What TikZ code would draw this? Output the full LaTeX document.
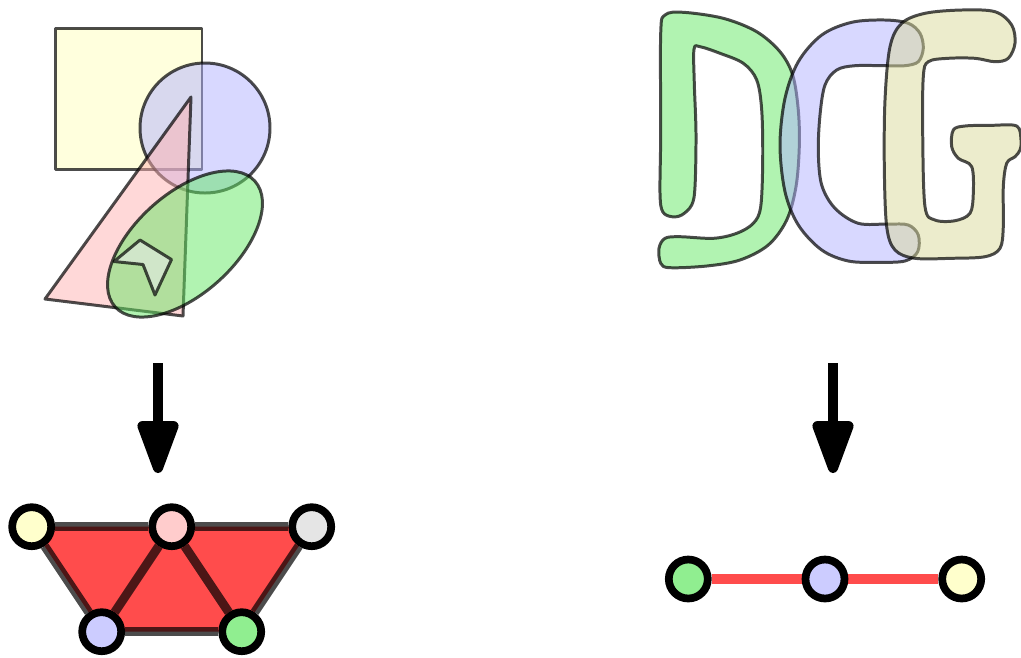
\documentclass[tikz,border=0pt]{standalone}
\usepackage{xcolor}
\usepackage{tikz}
\usetikzlibrary{arrows.meta,backgrounds}
\definecolor{shyellow}{RGB}{255,255,187}
\definecolor{shblue}{RGB}{177,177,255}
\definecolor{shpink}{RGB}{255,177,177}
\definecolor{shgreen}{RGB}{99,231,99}
\definecolor{sholive}{RGB}{217,217,153}
\definecolor{shgray}{RGB}{240,236,245}
\definecolor{facered}{RGB}{255,76,76}
\definecolor{vyellow}{RGB}{255,255,204}
\definecolor{vpink}{RGB}{255,204,204}
\definecolor{vgray}{RGB}{229,229,229}
\definecolor{vblue}{RGB}{204,204,255}
\definecolor{vgreen}{RGB}{144,238,144}

\begin{document}
\begin{tikzpicture}[x=0.02cm, y=-0.02cm,
    blob/.style={draw=black, draw opacity=0.7, line width=1.7pt, fill opacity=0.5, line join=round},
    vertex/.style={circle, draw=black, line width=4.4pt, minimum size=0.78cm, inner sep=0pt},
    faceedge/.style={draw=black, draw opacity=0.7, line width=5.1pt},
    downarrow/.style={line width=5.7pt, -{Triangle[length=1.25cm,width=0.85cm,round]}}]
        \useasboundingbox (0,0) rectangle (1021,657);
        % Shapes
        \draw[blob, fill=shyellow] (55.5,28) rectangle (202,169);
        \draw[blob, fill=shblue] (205,128) circle [radius=65];
        \draw[blob, fill=shpink] (191,97) -- (183,316) -- (45,299) -- cycle;
        \draw[blob, fill=shgreen, rotate around={42:(185,244)}] (185,244) ellipse [x radius=94, y radius=50];
        \draw[blob, fill=shgray] (140,240) -- (171.5,259.5) -- (155,295) -- (143,264.5) -- (114,261.5) -- cycle;
        % Letters
        \draw[blob, fill=shgreen] plot[smooth cycle, tension=0.55] coordinates {
            (660.7,33.3) (665,15) (683.3,12.3) (723.3,18.3) (756.7,31.7) (780,51.7)
            (792.7,75) (798.3,110) (799.3,146.7) (796,186.7) (786.7,220) (768.3,245)
            (740,260) (706.7,266) (670,267.7) (660.7,263.3) (659,248.3) (665,238.3)
            (680,236.7) (713.3,238.3) (736.7,233.3) (753.3,223.3) (760.7,206.7) (762.7,160)
            (761.7,110) (756.7,80) (743.3,63.3) (720,53.3) (700,46.7) (694,49.3)
            (694.3,83.3) (696,133.3) (695,186.7) (691.7,205) (681.7,215) (671.7,216.7)
            (662.7,211.7) (660,193.3) (660.7,133.3)};
        \draw[blob, fill=shblue] plot[smooth cycle, tension=0.55] coordinates {
            (780,145) (785,98.3) (798.3,61.7) (821.7,35) (851.7,22.3) (885,20)
            (908.3,23.3) (920,33.3) (923.3,48.3) (918.3,61.7) (905,65.7) (885,65.7)
            (855,65.7) (836.7,70) (825,85) (820,115) (818.3,151.7) (821.7,185)
            (835,208.3) (858.3,223.3) (888.3,224) (908.3,225) (918.3,235) (917.7,251.7)
            (905,261) (878.3,262.3) (848.3,261) (821.7,250) (798.3,225) (785,191.7)};
        \draw[blob, fill=sholive] plot[smooth cycle, tension=0.55] coordinates {
            (885,100) (890,46.7) (901.7,23.3) (925,13.3) (961.7,10) (995,11.7)
            (1011.7,25) (1015,43.3) (1008.3,58.3) (995,61.7) (975,58.3) (948.3,58.3)
            (928.3,61.7) (923.3,76.7) (922.7,133.3) (925,206.7) (935,220) (955,220.7)
            (970,213.3) (973.3,193.3) (971.7,166.7) (958.3,158.3) (951.7,146.7) (953.3,130)
            (965,126) (991.7,125.3) (1016.7,126) (1021,140) (1020,150) (1015,156.7)
            (1006.7,163.3) (1003.3,186.7) (1003.3,226.7) (1000,248.3) (985,256.7) (951.7,258.3)
            (915,258.3) (895,250) (886.7,226.7) (884.3,166.7)};
        % Arrows
        \coordinate (leftstart) at (158,363);
        \coordinate (leftend) at (158,473);
        \coordinate (rightstart) at (833,363);
        \coordinate (rightend) at (833,473);
        \draw[downarrow] (leftstart) -- (leftend);
        \draw[downarrow] (rightstart) -- (rightend);
        % Left graph
        \node[vertex, fill=vyellow] (ly) at (31.7,526.7) {};
        \node[vertex, fill=vpink] (lp) at (171.7,526.7) {};
        \node[vertex, fill=vgray] (lg) at (311.7,526.7) {};
        \node[vertex, fill=vblue] (lb) at (101.7,631.7) {};
        \node[vertex, fill=vgreen] (lgr) at (241.7,631.7) {};
        \begin{scope}[on background layer]
            \fill[facered] (ly.center) -- (lp.center) -- (lg.center) -- (lgr.center) -- (lb.center) -- cycle;
            \foreach \a/\b in {ly/lp, lp/lg, lg/lgr, lgr/lb, lb/ly, lp/lb, lp/lgr}
                \draw[faceedge] (\a) -- (\b);
        \end{scope}
        % Right graph
        \node[vertex, fill=vgreen] (rg) at (688.3,579) {};
        \node[vertex, fill=vblue] (rb) at (825,579) {};
        \node[vertex, fill=vyellow] (ry) at (961.7,579) {};
        \begin{scope}[on background layer]
            \draw[facered, line width=5.7pt] (rg) -- (rb) -- (ry);
        \end{scope}
    \end{tikzpicture}
\end{document}
